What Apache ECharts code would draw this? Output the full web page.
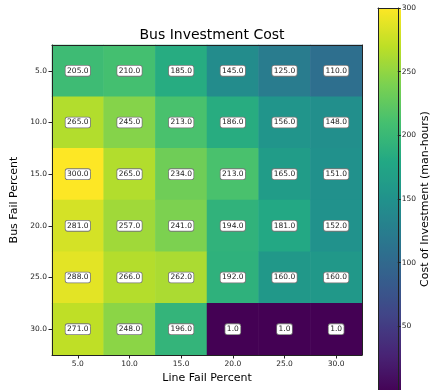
<!DOCTYPE html>
<html>
<head>
<meta charset="utf-8">
<script src="https://cdn.jsdelivr.net/npm/echarts@6/dist/echarts.min.js"></script>
<style>
  html, body { margin: 0; padding: 0; background: #fff; }
  #chart { width: 432px; height: 390px; }
</style>
</head>
<body>
<div id="chart"></div>
<script>
// Fail percentages along each axis
const lineFailPercent = ['5.0', '10.0', '15.0', '20.0', '25.0', '30.0'];
const busFailPercent = ['5.0', '10.0', '15.0', '20.0', '25.0', '30.0'];

// Investment cost (man-hours), one row per bus fail percent
const cost5 = [205, 210, 185, 145, 125, 110];
const cost10 = [265, 245, 213, 186, 156, 148];
const cost15 = [300, 265, 234, 213, 165, 151];
const cost20 = [281, 257, 241, 194, 181, 152];
const cost25 = [288, 266, 262, 192, 160, 160];
const cost30 = [271, 248, 196, 1, 1, 1];
const costRows = [cost5, cost10, cost15, cost20, cost25, cost30];

// Colour scale range
const costMin = 1;
const costMax = 300;

// Viridis colour stops
const viridis = ['#440154', '#482475', '#414487', '#355f8d', '#2a788e',
  '#21918c', '#22a884', '#44bf70', '#7ad151', '#bddf26', '#fde725'];

const cells = [];
costRows.forEach((row, i) => {
  row.forEach((v, j) => cells.push([j, i, v]));
});

const font = 'DejaVu Sans';
const ink = '#222';

const chart = echarts.init(document.getElementById('chart'), null, { renderer: 'canvas' });
chart.setOption({
  animation: false,
  backgroundColor: '#fff',
  textStyle: { fontFamily: font },
  title: {
    text: 'Bus Investment Cost',
    left: 207, textAlign: 'center', top: 23,
    textStyle: { fontFamily: font, fontSize: 14, fontWeight: 'normal', color: '#000' }
  },
  grid: [
    { left: 52, top: 45, width: 310, height: 310 },
    { left: 378, top: 8, width: 23, height: 386 }
  ],
  xAxis: [
    {
      gridIndex: 0, type: 'category', data: lineFailPercent, position: 'bottom', z: 10,
      name: 'Line Fail Percent', nameLocation: 'middle', nameGap: 14,
      nameTextStyle: { fontFamily: font, fontSize: 11, color: '#000' },
      axisLine: { show: true, lineStyle: { color: '#222', width: 1 } },
      axisTick: { show: true, alignWithLabel: true, length: 3.5, lineStyle: { color: '#222' } },
      axisLabel: { fontFamily: font, fontSize: 7.5, color: ink, margin: 5 },
      splitLine: { show: false }
    },
    {
      gridIndex: 0, type: 'category', data: lineFailPercent, position: 'top', z: 10,
      axisLine: { show: true, lineStyle: { color: '#222', width: 1 } },
      axisTick: { show: false }, axisLabel: { show: false }, splitLine: { show: false }
    },
    {
      gridIndex: 1, type: 'value', min: 0, max: 1, position: 'top', z: 10,
      axisLine: { show: true, onZero: false, lineStyle: { color: '#222', width: 1 } },
      axisTick: { show: false }, axisLabel: { show: false }, splitLine: { show: false }
    }
  ],
  yAxis: [
    {
      gridIndex: 0, type: 'category', data: busFailPercent, inverse: true, position: 'left', z: 10,
      name: 'Bus Fail Percent', nameLocation: 'middle', nameGap: 29, nameRotate: 90,
      nameTextStyle: { fontFamily: font, fontSize: 11, color: '#000' },
      axisLine: { show: true, lineStyle: { color: '#222', width: 1 } },
      axisTick: { show: true, alignWithLabel: true, length: 3.5, lineStyle: { color: '#222' } },
      axisLabel: { fontFamily: font, fontSize: 7.5, color: ink, margin: 5 },
      splitLine: { show: false }
    },
    {
      gridIndex: 0, type: 'category', data: busFailPercent, inverse: true, position: 'right', z: 10,
      axisLine: { show: true, lineStyle: { color: '#222', width: 1 } },
      axisTick: { show: false }, axisLabel: { show: false }, splitLine: { show: false }
    },
    {
      gridIndex: 1, type: 'value', min: 0, max: costMax, interval: 50, position: 'right', z: 10,
      name: 'Cost of Investment (man-hours)', nameLocation: 'middle', nameGap: 21, nameRotate: 90,
      nameTextStyle: { fontFamily: font, fontSize: 11, color: '#000' },
      axisLine: { show: true, onZero: false, lineStyle: { color: '#222', width: 1 } },
      axisTick: { show: true, length: 3, lineStyle: { color: '#222' } },
      axisLabel: { fontFamily: font, fontSize: 7.5, color: ink, margin: 4, showMinLabel: false },
      splitLine: { show: false }
    },
    {
      gridIndex: 1, type: 'value', min: 0, max: costMax, position: 'left', z: 10,
      axisLine: { show: true, onZero: false, lineStyle: { color: '#222', width: 1 } },
      axisTick: { show: false }, axisLabel: { show: false }, splitLine: { show: false }
    }
  ],
  visualMap: {
    type: 'continuous',
    min: costMin, max: costMax,
    seriesIndex: 0, dimension: 2,
    calculable: false, hoverLink: false,
    orient: 'vertical',
    left: 378, top: 8, padding: 0,
    itemWidth: 23, itemHeight: 385,
    text: null, showLabel: false,
    inRange: { color: viridis }
  },
  series: [{
    type: 'heatmap',
    xAxisIndex: 0, yAxisIndex: 0,
    data: cells,
    itemStyle: { borderWidth: 0 },
    label: {
      show: true,
      formatter: p => p.value[2].toFixed(1),
      fontFamily: font, fontSize: 7.5, color: '#222',
      backgroundColor: '#fff', borderColor: '#777', borderWidth: 0.8, borderRadius: 2,
      padding: [1.5, 1.5, 0.5, 1.5]
    },
    emphasis: { disabled: true }
  }]
});
</script>
</body>
</html>
